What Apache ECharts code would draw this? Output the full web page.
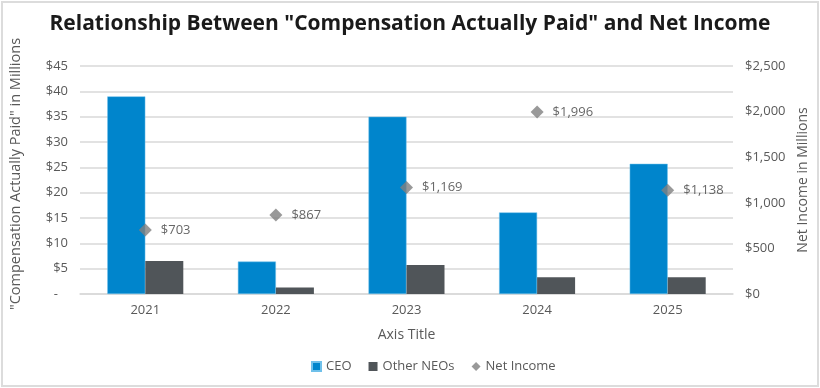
<!DOCTYPE html>
<html>
<head>
<meta charset="utf-8">
<script src="https://cdn.jsdelivr.net/npm/echarts@6/dist/echarts.min.js"></script>
<style>
html,body{margin:0;padding:0;background:#fff;}
#c{width:820px;height:388px;}
</style>
</head>
<body>
<div id="c"></div>
<script>
var categories = ['2021', '2022', '2023', '2024', '2025'];
var ceoValues = [39.0, 6.4, 35.0, 16.1, 25.7];
var otherNeoValues = [6.5, 1.3, 5.7, 3.3, 3.3];
var netIncomeValues = [703, 867, 1169, 1996, 1138];
var leftTicks = { min: 0, max: 45, interval: 5 };
var rightTicks = { min: 0, max: 2500, interval: 500 };

var FONT = '"Open Sans", "Noto Sans", sans-serif';
function fmtMoney(v) {
  return '$' + Math.round(v).toString().replace(/\B(?=(\d{3})+(?!\d))/g, ',');
}

var chart = echarts.init(document.getElementById('c'), null, { renderer: 'canvas' });
chart.setOption({
  animation: false,
  textStyle: { fontFamily: FONT },
  title: {
    text: 'Relationship Between "Compensation Actually Paid" and Net Income',
    left: 'center',
    top: 9,
    textStyle: { fontFamily: FONT, fontWeight: 'bold', fontSize: 21, color: '#1a1a1a' }
  },
  graphic: [{
    type: 'rect',
    shape: { x: 2, y: 2, width: 816, height: 384 },
    style: { fill: 'none', stroke: '#dcdcdc', lineWidth: 2 },
    silent: true
  }],
  legend: {
    bottom: 10,
    left: 306,
    itemWidth: 9,
    itemHeight: 9,
    itemGap: 17,
    textStyle: { fontFamily: FONT, fontSize: 13, color: '#595959' },
    data: [
      { name: 'CEO', icon: 'rect' },
      { name: 'Other NEOs', icon: 'rect' },
      { name: 'Net Income', icon: 'diamond' }
    ]
  },
  grid: { left: 76, right: 87, top: 66, bottom: 94, containLabel: false },
  xAxis: {
    type: 'category',
    data: categories,
    name: 'Axis Title',
    nameLocation: 'middle',
    nameGap: 34,
    nameTextStyle: { fontFamily: FONT, fontSize: 14, color: '#595959' },
    axisTick: { show: false },
    axisLine: { lineStyle: { color: '#d9d9d9', width: 1.5 } },
    axisLabel: { fontFamily: FONT, fontSize: 13, color: '#595959', margin: 10 }
  },
  yAxis: [{
    type: 'value',
    min: leftTicks.min, max: leftTicks.max, interval: leftTicks.interval,
    name: '"Compensation Actually Paid" in Millions',
    nameLocation: 'middle',
    nameGap: 57,
    nameTextStyle: { fontFamily: FONT, fontSize: 14.5, color: '#595959', padding: [0, 0, 0, 12] },
    axisLine: { show: false },
    axisTick: { show: false },
    splitLine: { lineStyle: { color: '#d9d9d9', width: 1.5 } },
    axisLabel: {
      fontFamily: FONT, fontSize: 13, color: '#595959', margin: 12,
      formatter: function (v) { return v === 0 ? '-   ' : '$' + v; }
    }
  }, {
    type: 'value',
    min: rightTicks.min, max: rightTicks.max, interval: rightTicks.interval,
    name: 'Net Income in Millions',
    nameLocation: 'middle',
    nameGap: 62,
    nameRotate: 90,
    nameTextStyle: { fontFamily: FONT, fontSize: 14, color: '#595959' },
    axisLine: { show: false },
    axisTick: { show: false },
    splitLine: { show: false },
    axisLabel: {
      fontFamily: FONT, fontSize: 13, color: '#595959', margin: 12,
      formatter: function (v) { return fmtMoney(v); }
    }
  }],
  series: [{
    name: 'CEO',
    type: 'bar',
    data: ceoValues,
    barWidth: 38,
    barGap: '0%',
    itemStyle: { color: '#0085CC', borderColor: '#6fc0ea', borderWidth: 0.5 }
  }, {
    name: 'Other NEOs',
    type: 'bar',
    data: otherNeoValues,
    barWidth: 38,
    barGap: '0%',
    itemStyle: { color: '#505559' }
  }, {
    name: 'Net Income',
    type: 'scatter',
    yAxisIndex: 1,
    data: netIncomeValues,
    symbol: 'diamond',
    symbolSize: [13, 13],
    itemStyle: { color: '#808080' },
    label: {
      show: true,
      position: 'right',
      distance: 9,
      fontFamily: FONT,
      fontSize: 13,
      color: '#404040',
      formatter: function (p) { return fmtMoney(p.value); }
    },
    z: 5
  }]
});
</script>
</body>
</html>
